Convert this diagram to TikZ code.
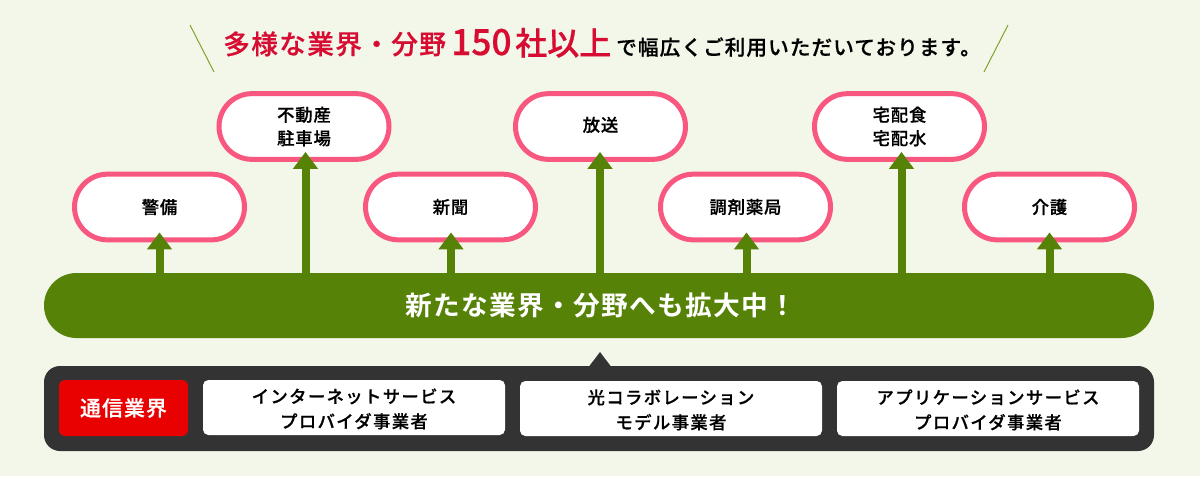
\documentclass[tikz,border=0pt]{standalone}
\usepackage{fontspec}
\usetikzlibrary{shapes.misc,arrows.meta}
\setmainfont{Noto Sans CJK JP}
\newfontfamily\jpb[LetterSpace=5]{Noto Sans CJK JP Bold}
\newfontfamily\jpm[FakeBold=0.6]{Noto Sans CJK JP Medium}
\newfontfamily\jpf[LetterSpace=5,FakeBold=0.6]{Noto Sans CJK JP Medium}
\newfontfamily\jps[LetterSpace=8,FakeBold=0.6]{Noto Sans CJK JP Medium}
\definecolor{bgc}{HTML}{F3F7EA}
\definecolor{grn}{HTML}{568207}
\definecolor{pnk}{HTML}{F8587F}
\definecolor{drk}{HTML}{333333}
\definecolor{rdt}{HTML}{D70C32}
\definecolor{rdb}{HTML}{E90000}
\definecolor{lin}{HTML}{7FA32E}
\newcommand{\fs}[2]{\fontsize{#1}{#2}\selectfont}
\newcommand{\svcdown}{\rule{0pt}{13pt}}
\begin{document}
\begin{tikzpicture}[x=0.75pt,y=-0.75pt,
  pill/.style={draw=pnk,line width=3.75pt,fill=white,rounded rectangle,minimum width=127.5pt,minimum height=49.25pt,inner sep=0pt,outer sep=0pt,align=center,font=\jpf\fs{13pt}{17.6pt}},
  uparrow/.style={draw=grn,line width=6pt,-{Triangle[width=18pt,length=12.75pt]}},
  svc/.style={fill=white,rounded corners=4pt,minimum width=226.5pt,minimum height=41.25pt,inner sep=0pt,align=center,font=\jps\fs{13pt}{18.7pt}},
  ttl/.style={inner sep=0pt,anchor=base west},
]
\useasboundingbox (0,0) rectangle (1200,476);
\fill[bgc] (0,0) rectangle (1200,476);
% title
\coordinate (l1) at (190,25); \coordinate (l2) at (214,72);
\coordinate (r1) at (1008,25); \coordinate (r2) at (984,72);
\draw[lin,line width=0.75pt] (l1) -- (l2);
\draw[lin,line width=0.75pt] (r1) -- (r2);
\node[ttl,text=rdt,font=\jpf\fs{20pt}{20pt}] (t1) at (223,54) {多様な業界・分野};
\node[ttl,text=rdt,font=\jpm\fs{27pt}{27pt}] (t2) at (451,55) {\scalebox{.98}[1]{150}};
\node[ttl,text=rdt,font=\jpm\fs{24pt}{24pt}] (t3) at (515,55) {社以上};
\node[ttl,text=black,font=\jpf\fs{15.5pt}{16pt}] (t4) at (616,55) {で幅広くご利用いただいております。};
% pills
\node[pill] (a) at (159.5,207) {警備};
\node[pill] (b) at (304,126.5) {不動産\\駐車場};
\node[pill] (c) at (450.5,207) {新聞};
\node[pill] (d) at (600.5,126.5) {\rule[-3.6pt]{0pt}{1pt}放送};
\node[pill] (e) at (745.5,207) {調剤薬局};
\node[pill] (f) at (899.5,126.5) {宅配食\\宅配水};
\node[pill] (g) at (1049.5,207) {介護};
% main bar
\node[fill=grn,rounded rectangle,minimum width=832.5pt,minimum height=48.75pt,inner sep=0pt,outer sep=0pt,text=white,font=\jpb\fs{20pt}{20pt}] (bar) at (599,305.5) {\hspace*{3pt}新たな業界・分野へも拡大中！};
% arrows
\foreach \n/\bx in {a/159.5,b/305.5,c/451,d/600,e/746.5,f/901.5,g/1049.5}{
  \coordinate (ax) at (\bx,0);
  \draw[uparrow] (bar.north -| ax) -- ([yshift=5.6pt]\n.south -| ax);
}
% bottom panel
\fill[drk,rounded corners=12pt] (44,366) rectangle (1154,451);
\fill[drk] (589,366.5) -- (600,352) -- (611,366.5) -- cycle;
\node[fill=rdb,rounded corners=4pt,minimum width=96.75pt,minimum height=42pt,inner sep=0pt,text=white,font=\jpf\fs{15.7pt}{16pt}] (h) at (123.5,408) {通信業界};
\node[svc] (s1) at (354,407.5) {\svcdown インターネットサービス\\プロバイダ事業者};
\node[svc] (s2) at (671,408.5) {\svcdown 光コラボレーション\\モデル事業者};
\node[svc] (s3) at (988,408.5) {\svcdown アプリケーションサービス\\プロバイダ事業者};
\end{tikzpicture}
\end{document}
